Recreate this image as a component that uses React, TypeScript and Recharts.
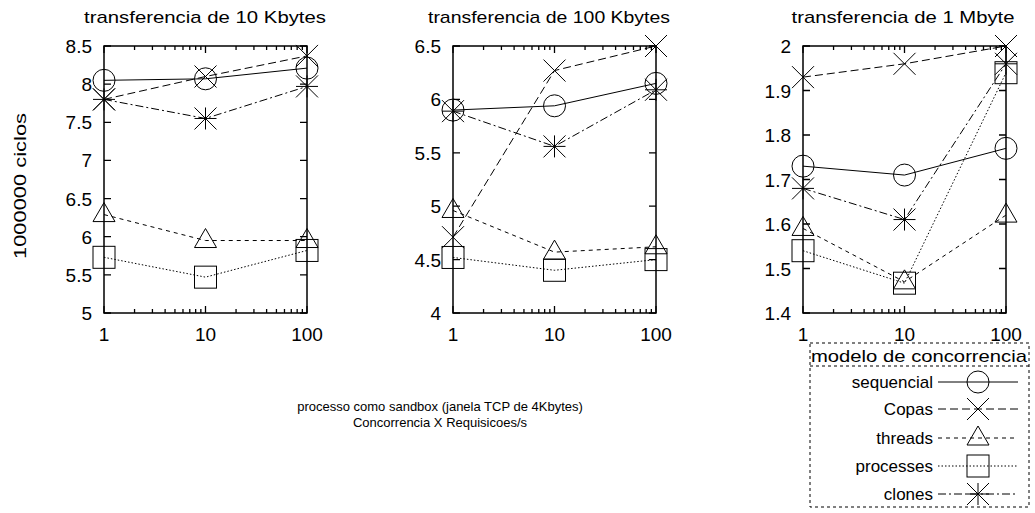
import React from 'react';
import { LineChart, Line, XAxis, YAxis } from 'recharts';

// x: concorrencia (log scale)
const concurrency = [1, 10, 100];
const xTicks = [1, 2, 3, 4, 5, 6, 7, 8, 9, 10, 20, 30, 40, 50, 60, 70, 80, 90, 100];
const xMajor = [1, 10, 100];

// transferencia de 10 Kbytes
const seq10k = [8.05, 8.07, 8.21];
const copas10k = [7.8, 8.1, 8.37];
const threads10k = [6.29, 5.95, 5.95];
const proc10k = [5.73, 5.47, 5.82];
const clones10k = [7.8, 7.55, 7.97];
const yTicks10k = [5, 5.5, 6, 6.5, 7, 7.5, 8, 8.5];

// transferencia de 100 Kbytes
const seq100k = [5.9, 5.94, 6.15];
const copas100k = [4.71, 6.27, 6.5];
const threads100k = [4.96, 4.57, 4.62];
const proc100k = [4.52, 4.4, 4.5];
const clones100k = [5.89, 5.56, 6.09];
const yTicks100k = [4, 4.5, 5, 5.5, 6, 6.5];

// transferencia de 1 Mbyte
const seq1m = [1.73, 1.71, 1.77];
const copas1m = [1.93, 1.96, 2.0];
const threads1m = [1.59, 1.47, 1.62];
const proc1m = [1.54, 1.467, 1.94];
const clones1m = [1.68, 1.61, 1.96];
const yTicks1m = [1.4, 1.5, 1.6, 1.7, 1.8, 1.9, 2];

const seriesNames = ['sequencial', 'Copas', 'threads', 'processes', 'clones'];

const FONT = '"Liberation Sans", Arial, Helvetica, sans-serif';
const PLOT_TOP = 46;
const PLOT_BOTTOM = 313;
const PLOT_H = PLOT_BOTTOM - PLOT_TOP;
const PANEL = 345;

const dashes: Record<string, string | undefined> = {
  sequencial: undefined,
  Copas: '8 4',
  threads: '4 4',
  processes: '1.5 2',
  clones: '8 3 2 3',
};

const Marker = ({ kind, cx, cy }: { kind: string; cx: number; cy: number }) => {
  const s = 11;
  const common = { stroke: '#000', strokeWidth: 1, fill: 'none', strokeDasharray: 'none' };
  if (kind === 'sequencial') return <circle cx={cx} cy={cy} r={s} {...common} />;
  if (kind === 'Copas')
    return <path d={`M${cx - s},${cy - s}L${cx + s},${cy + s}M${cx - s},${cy + s}L${cx + s},${cy - s}`} {...common} />;
  if (kind === 'threads')
    return <polygon points={`${cx},${cy - 12} ${cx - 11},${cy + 7} ${cx + 11},${cy + 7}`} {...common} />;
  if (kind === 'processes') return <rect x={cx - s} y={cy - s} width={2 * s} height={2 * s} {...common} />;
  return (
    <path
      d={`M${cx - s},${cy - s}L${cx + s},${cy + s}M${cx - s},${cy + s}L${cx + s},${cy - s}M${cx - s},${cy}L${cx + s},${cy}M${cx},${cy - s}L${cx},${cy + s}`}
      {...common}
    />
  );
};

interface PanelProps {
  left: number;
  plotLeft: number;
  plotRight: number;
  series: number[][];
  yDomain: [number, number];
  yTicks: number[];
}

const Panel: React.FC<PanelProps> = ({ left, plotLeft, plotRight, series, yDomain, yTicks }) => {
  const plotW = plotRight - plotLeft;
  const [yMin, yMax] = yDomain;
  const data = concurrency.map((c, i) => {
    const row: Record<string, number> = { x: c };
    seriesNames.forEach((n, k) => (row[n] = series[k][i]));
    return row;
  });

  // same mapping as the chart's log x / linear y axes, used for the frame
  const sx = (v: number) => plotLeft + (plotW * Math.log10(v)) / 2;
  const sy = (v: number) => PLOT_BOTTOM - ((v - yMin) / (yMax - yMin)) * PLOT_H;

  const XTick = (props: any) => {
    const { x, y, payload } = props;
    if (!xMajor.includes(payload.value)) return <g />;
    return (
      <text x={x} y={y + 28} textAnchor="middle" fontSize={19} fontFamily={FONT} fill="#000">
        {payload.value}
      </text>
    );
  };

  const YTick = (props: any) => {
    const { x, y, payload } = props;
    return (
      <text x={x - 12} y={y + 7} textAnchor="end" fontSize={19} fontFamily={FONT} fill="#000">
        {payload.value}
      </text>
    );
  };

  let frame = '';
  xTicks.forEach((t) => {
    const len = xMajor.includes(t) ? 7 : 4;
    const x = sx(t);
    frame += `M${x},${PLOT_BOTTOM}V${PLOT_BOTTOM - len}M${x},${PLOT_TOP}V${PLOT_TOP + len}`;
  });
  yTicks.forEach((v) => {
    const y = sy(v);
    frame += `M${plotLeft},${y}H${plotLeft + 7}M${plotRight - 7},${y}H${plotRight}`;
  });

  return (
    <div style={{ position: 'absolute', left, top: 0, width: PANEL, height: PANEL }}>
      <LineChart
        width={PANEL}
        height={PANEL}
        data={data}
        margin={{ top: PLOT_TOP, left: plotLeft - 40, right: PANEL - plotRight, bottom: PANEL - PLOT_BOTTOM - 30 }}
      >
        <XAxis
          dataKey="x"
          type="number"
          scale="log"
          domain={[1, 100]}
          ticks={xTicks}
          interval={0}
          height={30}
          axisLine={false}
          tickLine={false}
          tickSize={0}
          tickMargin={0}
          tick={XTick}
        />
        <YAxis
          type="number"
          domain={yDomain}
          ticks={yTicks}
          interval={0}
          width={40}
          axisLine={false}
          tickLine={false}
          tickSize={0}
          tickMargin={0}
          tick={YTick}
        />
        {seriesNames.map((n) => (
          <Line
            key={n}
            dataKey={n}
            type="linear"
            stroke="#000"
            strokeWidth={1}
            strokeDasharray={dashes[n]}
            isAnimationActive={false}
            activeDot={false}
            dot={(p: any) => <Marker key={`${n}-${p.index}`} kind={n} cx={p.cx} cy={p.cy} />}
          />
        ))}
      </LineChart>
      <svg width={PANEL} height={PANEL} style={{ position: 'absolute', left: 0, top: 0, pointerEvents: 'none' }}>
        <rect x={plotLeft} y={PLOT_TOP} width={plotW} height={PLOT_H} fill="none" stroke="#000" strokeWidth={1.5} />
        <path d={frame} stroke="#000" strokeWidth={1.3} fill="none" />
      </svg>
    </div>
  );
};

const Legend = () => {
  const rows = [388, 415, 444, 472, 500];
  return (
    <g>
      <rect x={810} y={343} width={219} height={164} fill="none" stroke="#000" strokeWidth={1} strokeDasharray="3 3" />
      <line x1={810} y1={366} x2={1029} y2={366} stroke="#000" strokeWidth={1} strokeDasharray="3 3" />
      <text x={919} y={362} textAnchor="middle" fontSize={17} fontFamily={FONT} textLength={216} lengthAdjust="spacingAndGlyphs">
        modelo de concorrencia
      </text>
      {seriesNames.map((n, i) => (
        <g key={n}>
          <text x={933} y={rows[i]} textAnchor="end" fontSize={17} fontFamily={FONT}>
            {n}
          </text>
          <line x1={938} y1={rows[i] - 6} x2={1018} y2={rows[i] - 6} stroke="#000" strokeWidth={1} strokeDasharray={dashes[n]} />
          <Marker kind={n} cx={978} cy={rows[i] - 6} />
        </g>
      ))}
    </g>
  );
};

export default function App() {
  return (
    <div style={{ position: 'absolute', left: 0, top: 0, width: 1035, height: 513, background: '#fff', fontFamily: FONT }}>
      <Panel left={0} plotLeft={104} plotRight={307} series={[seq10k, copas10k, threads10k, proc10k, clones10k]} yDomain={[5, 8.5]} yTicks={yTicks10k} />
      <Panel left={345} plotLeft={108} plotRight={311} series={[seq100k, copas100k, threads100k, proc100k, clones100k]} yDomain={[4, 6.5]} yTicks={yTicks100k} />
      <Panel left={690} plotLeft={113} plotRight={316} series={[seq1m, copas1m, threads1m, proc1m, clones1m]} yDomain={[1.4, 2]} yTicks={yTicks1m} />
      <svg width={1035} height={513} style={{ position: 'absolute', left: 0, top: 0, pointerEvents: 'none' }}>
        <g fontFamily={FONT} fill="#000">
          <text x={205} y={23} textAnchor="middle" fontSize={17} textLength={242} lengthAdjust="spacingAndGlyphs">
            transferencia de 10 Kbytes
          </text>
          <text x={549} y={23} textAnchor="middle" fontSize={17} textLength={242} lengthAdjust="spacingAndGlyphs">
            transferencia de 100 Kbytes
          </text>
          <text x={903} y={23} textAnchor="middle" fontSize={17} textLength={223} lengthAdjust="spacingAndGlyphs">
            transferencia de 1 Mbyte
          </text>
          <text
            transform="translate(26,186) rotate(-90)"
            textAnchor="middle"
            fontSize={17}
            textLength={146}
            lengthAdjust="spacingAndGlyphs"
          >
            1000000 ciclos
          </text>
          <text x={440} y={411} textAnchor="middle" fontSize={13}>
            processo como sandbox (janela TCP de 4Kbytes)
          </text>
          <text x={440} y={427} textAnchor="middle" fontSize={13}>
            Concorrencia X Requisicoes/s
          </text>
          <Legend />
        </g>
      </svg>
    </div>
  );
}
